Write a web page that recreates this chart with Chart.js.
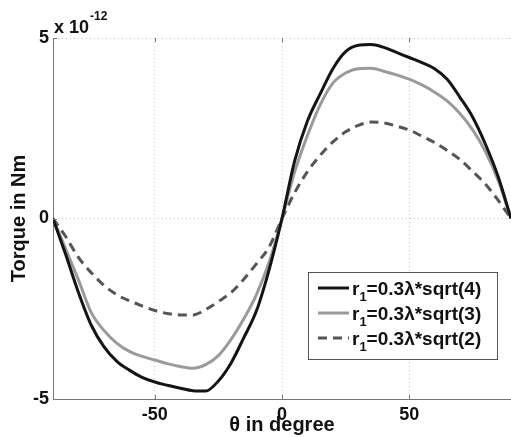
<!DOCTYPE html>
<html><head><meta charset="utf-8">
<script src="https://cdn.jsdelivr.net/npm/chart.js@4/dist/chart.umd.min.js"></script>
<style>html,body{margin:0;padding:0;background:#fff;overflow:hidden}#wrap{width:511px;height:437px;position:relative}</style>
</head><body><div id="wrap"><canvas id="c" width="511" height="437"></canvas></div>
<script>
// angle in degrees
const theta = [-90,-85,-80,-75,-70,-65,-60,-55,-50,-45,-40,-35,-30,-25,-20,-15,-10,-5,0,5,10,15,20,25,30,35,40,45,50,55,60,65,70,75,80,85,90];
// torque in units of 1e-12 Nm
const torqueSqrt4 = [0,-1.0,-2.05,-2.95,-3.55,-3.95,-4.2,-4.4,-4.53,-4.62,-4.7,-4.77,-4.78,-4.5,-4.0,-3.3,-2.55,-1.4,0,1.6,2.7,3.45,4.15,4.62,4.8,4.82,4.74,4.6,4.46,4.32,4.15,3.85,3.35,2.8,2.05,1.15,0];
const torqueSqrt3 = [0,-0.85,-1.7,-2.6,-3.1,-3.45,-3.68,-3.82,-3.92,-4.02,-4.1,-4.15,-4.05,-3.8,-3.35,-2.78,-2.1,-1.2,0,1.3,2.3,3.15,3.75,4.03,4.15,4.16,4.08,3.98,3.86,3.7,3.5,3.25,2.9,2.45,1.85,1.05,0];
const torqueSqrt2 = [0,-0.5,-1.08,-1.5,-1.85,-2.11,-2.28,-2.42,-2.55,-2.63,-2.67,-2.67,-2.52,-2.3,-2.05,-1.68,-1.25,-0.78,0,0.72,1.3,1.75,2.12,2.4,2.58,2.67,2.65,2.56,2.45,2.28,2.1,1.88,1.63,1.3,0.95,0.5,0];
const seriesLabels = ['r\u2081=0.3\u03bb*sqrt(4)','r\u2081=0.3\u03bb*sqrt(3)','r\u2081=0.3\u03bb*sqrt(2)'];
const xTickValues = [-50,0,50];
const yTickValues = [-5,0,5];
const yExponent = '-12';
const xTitle = '\u03b8 in degree';
const yTitle = 'Torque in Nm';

const pts = arr => theta.map((t,i)=>({x:t,y:arr[i]}));
const FONT = '"Liberation Sans", Arial, Helvetica, sans-serif';

const extras = {
  id:'extras',
  afterDatasetsDraw(chart){
    const ctx = chart.ctx, a = chart.chartArea, xs = chart.scales.x, ys = chart.scales.y;
    ctx.save();
    ctx.strokeStyle = '#777'; ctx.lineWidth = 1;
    xTickValues.forEach(v=>{ const px = Math.round(xs.getPixelForValue(v))+0.5;
      ctx.beginPath(); ctx.moveTo(px,a.top); ctx.lineTo(px,a.top+4); ctx.moveTo(px,a.bottom); ctx.lineTo(px,a.bottom-4); ctx.stroke(); });
    yTickValues.forEach(v=>{ const py = Math.round(ys.getPixelForValue(v))+0.5;
      ctx.beginPath(); ctx.moveTo(a.left,py); ctx.lineTo(a.left+4,py); ctx.stroke(); });
    ctx.restore();
  },
  afterDraw(chart){
    const ctx = chart.ctx, a = chart.chartArea;
    ctx.save();
    // exponent label
    ctx.fillStyle = '#111';
    ctx.font = 'bold 18px ' + FONT;
    ctx.textBaseline = 'alphabetic'; ctx.textAlign = 'left';
    ctx.fillText('x 10', a.left + 1, a.top - 5);
    const w = ctx.measureText('x 10').width;
    ctx.font = 'bold 12px ' + FONT;
    ctx.fillText(yExponent, a.left + 2 + w, a.top - 18);
    // legend
    const bx = a.right - 203, by = a.bottom - 127, bw = 189, bh = 87;
    ctx.fillStyle = '#fff'; ctx.fillRect(bx, by, bw, bh);
    ctx.strokeStyle = '#555'; ctx.lineWidth = 1;
    ctx.strokeRect(Math.round(bx)+0.5, Math.round(by)+0.5, bw, bh);
    chart.data.datasets.forEach((ds,i)=>{
      const cy = by + 16 + i*25;
      ctx.save();
      ctx.strokeStyle = ds.borderColor; ctx.lineWidth = ds.borderWidth;
      ctx.setLineDash(ds.borderDash || []);
      ctx.beginPath(); ctx.moveTo(bx+10, cy); ctx.lineTo(bx+41, cy); ctx.stroke();
      ctx.restore();
      const parts = ds.label.split('\u2081');
      let x = bx + 44;
      ctx.fillStyle = '#111'; ctx.textBaseline = 'alphabetic';
      ctx.font = 'bold 19px ' + FONT;
      ctx.fillText(parts[0], x, cy + 7); x += ctx.measureText(parts[0]).width;
      ctx.font = 'bold 13px ' + FONT;
      ctx.fillText('1', x, cy + 13); x += ctx.measureText('1').width;
      ctx.font = 'bold 19px ' + FONT;
      ctx.fillText(parts[1], x, cy + 7);
    });
    ctx.restore();
  }
};

new Chart(document.getElementById('c'), {
  type:'line',
  data:{ datasets:[
    {label:seriesLabels[0], data:pts(torqueSqrt4), borderColor:'#141414', borderWidth:3, pointRadius:0, cubicInterpolationMode:'monotone', fill:false},
    {label:seriesLabels[1], data:pts(torqueSqrt3), borderColor:'#9a9a9a', borderWidth:3, pointRadius:0, cubicInterpolationMode:'monotone', fill:false},
    {label:seriesLabels[2], data:pts(torqueSqrt2), borderColor:'#555555', borderWidth:3, borderDash:[9,6], pointRadius:0, cubicInterpolationMode:'monotone', fill:false}
  ]},
  options:{
    responsive:false, animation:false, devicePixelRatio:1,
    layout:{padding:{top:38,right:0,left:0,bottom:0}},
    plugins:{legend:{display:false}, tooltip:{enabled:false}},
    scales:{
      x:{type:'linear', min:-90, max:90,
        afterBuildTicks(s){ s.ticks = xTickValues.map(v=>({value:v})); },
        afterFit(s){ s.height = 38; },
        ticks:{font:{family:FONT, size:18, weight:'bold'}, color:'#111', padding:5, maxRotation:0, autoSkip:false},
        grid:{color:'#c4c4c4', drawTicks:false},
        border:{display:true, color:'#777', width:1, dash:[1,3]},
        title:{display:true, text:xTitle, font:{family:FONT, size:20, weight:'bold'}, color:'#111', padding:{top:1,bottom:0}}
      },
      y:{type:'linear', min:-5, max:5,
        afterBuildTicks(s){ s.ticks = yTickValues.map(v=>({value:v})); },
        afterFit(s){ s.width = 53; },
        ticks:{font:{family:FONT, size:18, weight:'bold'}, color:'#111', padding:4, autoSkip:false},
        grid:{color:'#c4c4c4', drawTicks:false},
        border:{display:true, color:'#777', width:1, dash:[1,3]},
        title:{display:true, text:yTitle, font:{family:FONT, size:20, weight:'bold'}, color:'#111', padding:{top:7,bottom:0}}
      }
    }
  },
  plugins:[extras]
});
</script></body></html>
